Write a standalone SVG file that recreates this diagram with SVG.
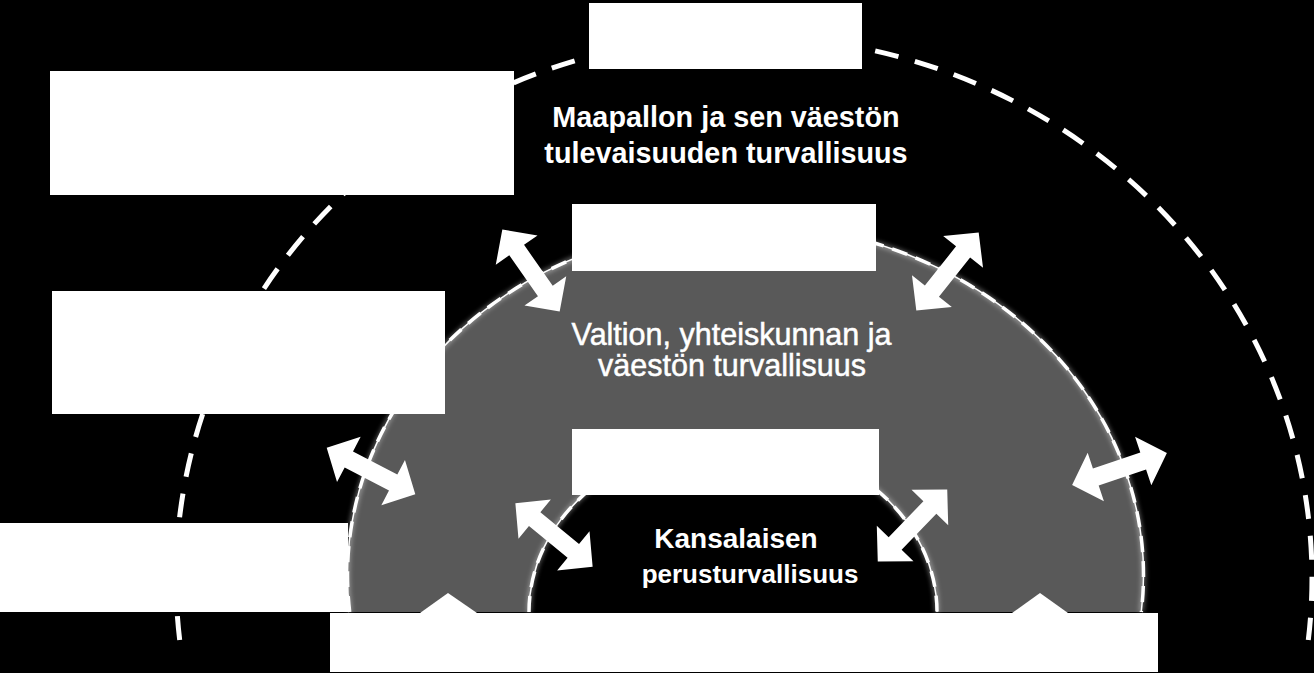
<svg xmlns="http://www.w3.org/2000/svg" width="1314" height="673" viewBox="0 0 1314 673">
  <style>
    .box { fill: #ffffff; }
    .outer-dash { fill: none; stroke: #ffffff; stroke-width: 5; stroke-dasharray: 24 17; }
    .edge-line { fill: none; stroke: #ffffff; stroke-width: 1.5; }
    .edge-dash { fill: none; stroke: #ffffff; stroke-width: 3.5; stroke-dasharray: 16 9; }
    .edge-glow { fill: none; stroke: #ffffff; stroke-width: 4; opacity: 0.45; }
    .arrow { fill: #ffffff; }
    .lbl { fill: #ffffff; font-family: "Liberation Sans", Arial, sans-serif; text-anchor: middle; }
    .b { font-weight: bold; }
  </style>
  <defs>
    <filter id="glow" x="-10%" y="-10%" width="120%" height="120%">
      <feGaussianBlur stdDeviation="2.5"/>
    </filter>
    <path id="dbl" d="M -50 0 L -25 -25.5 L -25 -9 L 25 -9 L 25 -25.5 L 50 0 L 25 25.5 L 25 9 L -25 9 L -25 25.5 Z"/>
  </defs>

  <rect x="0" y="0" width="1314" height="673" fill="#000000"/>

  <g id="outer-ring">
    <path class="outer-dash" d="M 179.7 640 A 568 542 0 1 1 1308.3 640"/>
  </g>

  <g id="middle-ring">
    <path d="M 349.7 612 A 398 351 0 1 1 1141.3 612 Z" fill="#595959"/>
    <path class="edge-glow" filter="url(#glow)" d="M 349.7 612 A 398 351 0 1 1 1141.3 612"/>
    <path class="edge-line" d="M 349.7 612 A 398 351 0 1 1 1141.3 612"/>
    <path class="edge-dash" d="M 349.7 612 A 398 351 0 1 1 1141.3 612"/>
  </g>

  <g id="inner-core">
    <path d="M 529 612 A 204 172 0 0 1 937 612 Z" fill="#000000"/>
    <path class="edge-glow" filter="url(#glow)" d="M 529 612 A 204 172 0 0 1 937 612"/>
    <path class="edge-line" d="M 529 612 A 204 172 0 0 1 937 612"/>
    <path class="edge-dash" d="M 529 612 A 204 172 0 0 1 937 612"/>
  </g>

  <g id="connectors">
    <use href="#dbl" class="arrow" transform="translate(531 270.5) rotate(55)"/>
    <use href="#dbl" class="arrow" transform="translate(947.5 271.5) rotate(128.6)"/>
    <use href="#dbl" class="arrow" transform="translate(371 471) rotate(27.6)"/>
    <use href="#dbl" class="arrow" transform="translate(554 535) rotate(39.4)"/>
    <use href="#dbl" class="arrow" transform="translate(912.5 525.5) rotate(134)"/>
    <use href="#dbl" class="arrow" transform="translate(1119.5 469) rotate(-18.6)"/>
    <polygon class="arrow" points="420,613 448,593 477,613"/>
    <polygon class="arrow" points="1012,613 1040,593 1068,613"/>
  </g>

  <g id="box-top"><rect class="box" x="589" y="3" width="273" height="66"/></g>
  <g id="box-left-1"><rect class="box" x="50" y="71" width="464" height="124"/></g>
  <g id="box-middle"><rect class="box" x="572" y="204" width="304" height="67"/></g>
  <g id="box-left-2"><rect class="box" x="52" y="291" width="393" height="123"/></g>
  <g id="box-inner"><rect class="box" x="572" y="429" width="307" height="66"/></g>
  <g id="box-left-3"><rect class="box" x="0" y="523" width="348" height="89"/></g>
  <g id="bottom-bar"><rect class="box" x="330" y="613" width="828" height="59"/></g>

  <g id="label-outer">
    <text class="lbl b" x="726" y="127" font-size="28.8">Maapallon ja sen väestön</text>
    <text class="lbl b" x="726" y="163" font-size="28.8">tulevaisuuden turvallisuus</text>
  </g>
  <g id="label-middle">
    <text class="lbl" x="731.5" y="345" font-size="30.5" stroke="#ffffff" stroke-width="0.5">Valtion, yhteiskunnan ja</text>
    <text class="lbl" x="732" y="376" font-size="30.5" stroke="#ffffff" stroke-width="0.5">väestön turvallisuus</text>
  </g>
  <g id="label-inner">
    <text class="lbl b" x="736" y="548" font-size="28">Kansalaisen</text>
    <text class="lbl b" x="750" y="583" font-size="26">perusturvallisuus</text>
  </g>
</svg>
